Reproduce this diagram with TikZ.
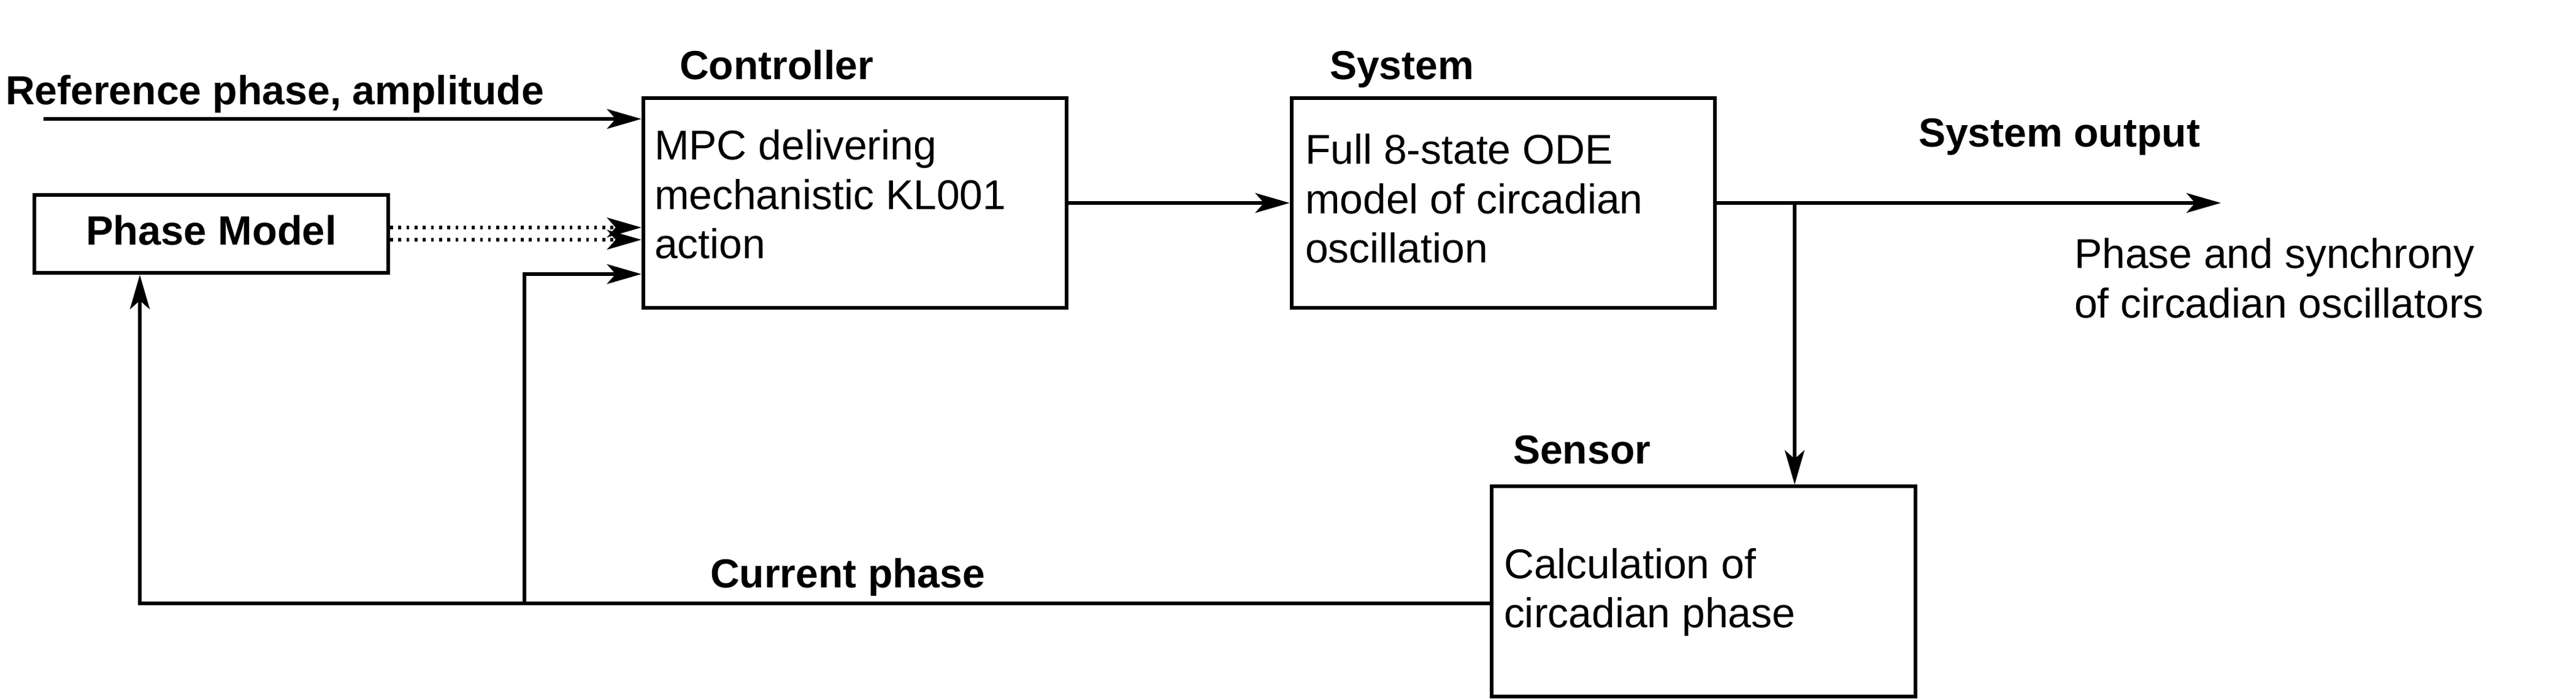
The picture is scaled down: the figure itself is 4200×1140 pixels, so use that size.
\documentclass[tikz,border=0pt]{standalone}
\usepackage{fontspec}
\setmainfont{Liberation Sans}
\usetikzlibrary{arrows.meta}
\begin{document}
\begin{tikzpicture}[x=0.01cm,y=-0.01cm,
  font=\fontsize{19.3}{22.76}\selectfont,
  blk/.style={draw, line width=0.06cm, minimum width=6.9cm, minimum height=3.42cm},
  lbl/.style={font=\fontsize{18.8}{22.76}\selectfont\bfseries, anchor=base west, inner sep=0pt, outer sep=0pt},
  txt/.style={anchor=base west, inner sep=0pt, outer sep=0pt},
  conn/.style={line width=0.06cm},
  arr/.style={conn, -{Stealth[length=0.56cm, width=0.32cm, inset=0.14cm]}},
  dotarr/.style={arr, dash pattern=on 0.045cm off 0.088cm}
]
\useasboundingbox (0,0) rectangle (4200,1140);

% boxes
\node[blk] (ctrl) at (1394,331) {};
\node[blk] (sys) at (2451,331) {};
\node[blk] (sens) at (2777.5,964.5) {};
\node[blk, minimum width=5.77cm, minimum height=1.27cm, inner sep=0pt,
      font=\fontsize{19}{22.76}\selectfont\bfseries, text height=0.49cm, text depth=0.14cm] (pm) at (344.5,381.5) {Phase Model};

% labels
\node[lbl] (reflbl) at (9,171) {Reference phase, amplitude};
\node[lbl] (ctrllbl) at (1108,130) {Controller};
\node[lbl] (syslbl) at (2168,130) {System};
\node[lbl] (outlbl) at (3128,240) {System output};
\node[lbl] (senslbl) at (2467,756) {Sensor};
\node[lbl] (curlbl) at (1158,958) {Current phase};

% box texts
\node[txt] (ctrltxt) at (1067,261) {\vtop{\hbox{MPC delivering}\hbox{mechanistic KL001}\hbox{action}}};
\node[txt] (systxt) at (2128,268) {\vtop{\hbox{Full 8-state ODE}\hbox{model of circadian}\hbox{oscillation}}};
\node[txt] (senstxt) at (2452,943) {\vtop{\hbox{Calculation of}\hbox{circadian phase}}};
\node[txt] (outtxt) at (3382,438) {\vtop{\hbox{Phase and synchrony}\hbox{of circadian oscillators}}};

% connectors
\coordinate (refin) at (71,194);
\draw[arr] (refin) -- (ctrl.west |- refin);
\draw[dotarr] (pm.east |- 0,371) -- (ctrl.west |- 0,371);
\draw[dotarr] (pm.east |- 0,391) -- (ctrl.west |- 0,391);
\draw[arr] (ctrl.east) -- (sys.west);
\coordinate (outend) at (3621,331);
\draw[arr] (sys.east) -- (outend);
\coordinate (br) at (2926,331);
\draw[arr] (br) -- (br |- sens.north);
\coordinate (j1) at (855,984);
\coordinate (j2) at (228,984);
\draw[arr] (sens.west |- j1) -- (j2) -- (j2 |- pm.south);
\draw[arr] (j1) -- (j1 |- 0,447) -- (ctrl.west |- 0,447);
\end{tikzpicture}
\end{document}
